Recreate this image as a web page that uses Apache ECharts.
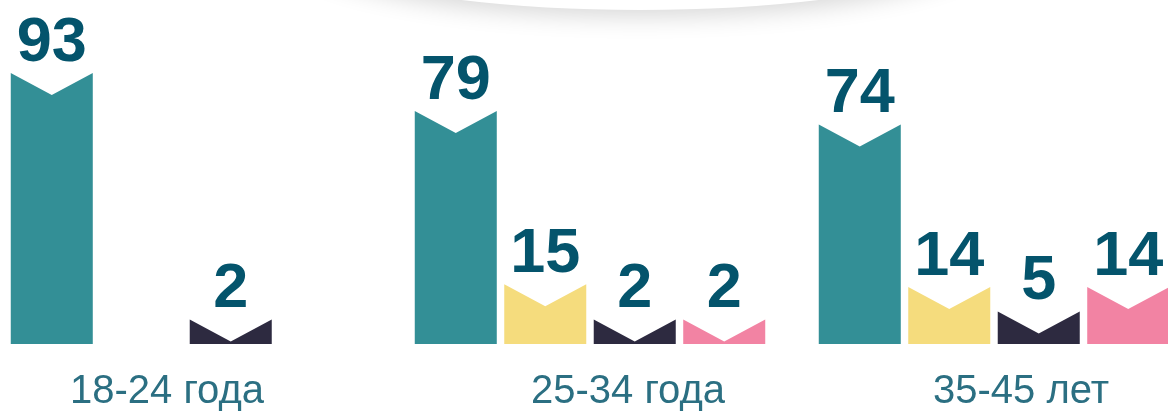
<!DOCTYPE html>
<html>
<head>
<meta charset="utf-8">
<script src="https://cdn.jsdelivr.net/npm/echarts@6/dist/echarts.min.js"></script>
<style>
  html, body { margin: 0; padding: 0; background: #fff; }
  #chart { width: 1168px; height: 414px; }
</style>
</head>
<body>
<div id="chart"></div>
<script>
const categories = ['18-24 года', '25-34 года', '35-45 лет'];
const tealValues = [93, 79, 74];
const yellowValues = [null, 15, 14];
const navyValues = [2, 2, 5];
const pinkValues = [null, 2, 14];

const colors = ['#338f96', '#f5dc7d', '#2d2a40', '#f283a3'];
// small per-label nudge so the group captions sit where the original has them
const labelPads = [[0, 38, 0, 0], [0, 0, 0, 76], [0, 0, 0, 54]];

const chart = echarts.init(document.getElementById('chart'));

function toData(values) {
  return values
    .map((v, i) => (v == null ? null : [i, v]))
    .filter((d) => d !== null);
}

function makeRender(slotIndex) {
  return function (params, api) {
    const cat = api.value(0);
    const v = api.value(1);
    const pt = api.coord([cat, v]);
    const band = api.size([1, 0])[0];
    const slot = band * 0.2215;
    const w = band * 0.203;
    const cx = pt[0] + (slotIndex - 1.5) * slot;
    const base = params.coordSys.y + params.coordSys.height;
    const top = pt[1];
    const notch = 22;
    return {
      type: 'group',
      children: [
        {
          type: 'polygon',
          shape: {
            points: [
              [cx - w / 2, base],
              [cx - w / 2, top],
              [cx, top + notch],
              [cx + w / 2, top],
              [cx + w / 2, base],
            ],
          },
          style: { fill: colors[slotIndex] },
        },
        {
          type: 'text',
          style: {
            text: String(v),
            x: cx,
            y: top + 2,
            align: 'center',
            verticalAlign: 'bottom',
            fill: '#04546c',
            font: 'bold 63px "Liberation Sans", Arial, sans-serif',
          },
        },
      ],
    };
  };
}

const seriesValues = [tealValues, yellowValues, navyValues, pinkValues];

const option = {
  animation: false,
  backgroundColor: '#fff',
  graphic: [
    {
      type: 'ellipse',
      shape: { cx: 640, cy: -66, rx: 360, ry: 76 },
      style: {
        fill: '#fff',
        shadowBlur: 24,
        shadowOffsetY: 6,
        shadowColor: 'rgba(0,0,0,0.16)',
      },
      z: -1,
    },
  ],
  grid: {
    left: 186,
    right: 174,
    top: 54,
    bottom: 70,
  },
  xAxis: {
    type: 'category',
    boundaryGap: false,
    data: categories.map((c, i) => ({
      value: c,
      textStyle: { padding: labelPads[i] },
    })),
    axisLine: { show: false },
    axisTick: { show: false },
    axisLabel: {
      margin: 28,
      fontSize: 40,
      color: '#2b6f82',
      fontFamily: '"Liberation Sans", Arial, sans-serif',
    },
  },
  yAxis: {
    type: 'value',
    min: -7,
    max: 100,
    show: false,
    splitLine: { show: false },
  },
  series: seriesValues.map((vals, i) => ({
    type: 'custom',
    renderItem: makeRender(i),
    encode: { x: 0, y: 1 },
    data: toData(vals),
    clip: false,
  })),
};

chart.setOption(option);
</script>
</body>
</html>
